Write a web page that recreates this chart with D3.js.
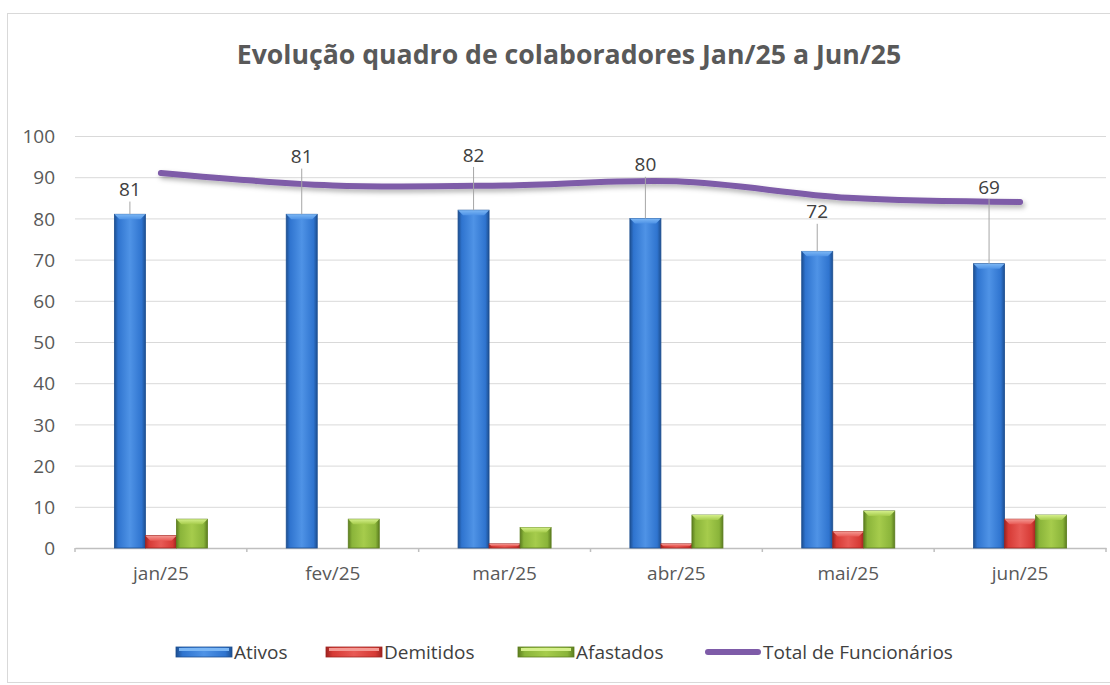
<!DOCTYPE html>
<html>
  <head>
    <meta charset="utf-8">
    <title>Evolução quadro de colaboradores</title>
    <script src="https://d3js.org/d3.v7.min.js"></script>
    <style>
      body { margin: 0; background: #fff; }
      #chart { display: block; font-family: "Open Sans", sans-serif; }
      #chart .tick text { fill: #595959; font-family: "Open Sans", sans-serif; }
    </style>
  </head>
  <body>
    <svg id="chart" width="1110" height="685"></svg>
    <script>
      // chart data
      var months = ["jan/25", "fev/25", "mar/25", "abr/25", "mai/25", "jun/25"];
      var ativos = [81, 81, 82, 80, 72, 69];
      var demitidos = [3, 0, 1, 1, 4, 7];
      var afastados = [7, 7, 5, 8, 9, 8];
      var total = [91, 88, 88, 89, 85, 84];
      var yTicks = [0, 10, 20, 30, 40, 50, 60, 70, 80, 90, 100];
      // where Excel left the Ativos labels (in axis units)
      var labelAt = [87, 95, 95.4, 93, 81.6, 87.6];

      var seriesNames = ["Ativos", "Demitidos", "Afastados"];
      var seriesValues = [ativos, demitidos, afastados];
      var palette = {
        Ativos: { dark: "#1d4f91", mid: "#2f74cf", light: "#4f93e6", top: "#7cb7f5" },
        Demitidos: { dark: "#9e2420", mid: "#d63a35", light: "#e85a55", top: "#f49a94" },
        Afastados: { dark: "#5c7d1f", mid: "#8ab43a", light: "#a6cc4c", top: "#d4ef8a" }
      };
      var lineColour = "#7e5ba8";
      var fontSize = 19;

      var margin = { top: 136, right: 4, bottom: 137, left: 75 };
      var width = 1110, height = 685;
      var chart = d3.select("#chart");

      // outer frame
      chart.append("rect")
        .attr("x", 7.5).attr("y", 13.5)
        .attr("width", 1110).attr("height", 669)
        .attr("fill", "none").attr("stroke", "#d9d9d9");

      // gradients + shadow
      var defs = chart.append("defs");
      seriesNames.forEach(function(s) {
        var c = palette[s];
        var g = defs.append("linearGradient").attr("id", "grad" + s)
          .attr("x1", 0).attr("x2", 1).attr("y1", 0).attr("y2", 0);
        g.append("stop").attr("offset", "0%").attr("stop-color", c.dark);
        g.append("stop").attr("offset", "12%").attr("stop-color", c.mid);
        g.append("stop").attr("offset", "50%").attr("stop-color", c.light);
        g.append("stop").attr("offset", "88%").attr("stop-color", c.mid);
        g.append("stop").attr("offset", "100%").attr("stop-color", c.dark);
        var t = defs.append("linearGradient").attr("id", "top" + s)
          .attr("x1", 0).attr("x2", 0).attr("y1", 0).attr("y2", 1);
        t.append("stop").attr("offset", "0%").attr("stop-color", c.top);
        t.append("stop").attr("offset", "100%").attr("stop-color", c.light);
      });
      var shadow = defs.append("filter").attr("id", "shadow")
        .attr("x", "-10%").attr("y", "-50%").attr("width", "120%").attr("height", "200%");
      shadow.append("feDropShadow").attr("dx", 2).attr("dy", 3)
        .attr("stdDeviation", 2.5).attr("flood-color", "#000").attr("flood-opacity", 0.3);

      // scales
      var x0 = d3.scaleBand()
        .domain(months)
        .range([margin.left, width - margin.right]);
      var x1 = d3.scaleBand()
        .domain(seriesNames)
        .range([0, x0.bandwidth()])
        .paddingInner(0)
        .paddingOuter(1.27);
      var y = d3.scaleLinear()
        .domain([0, 100])
        .range([height - margin.bottom, margin.top]);

      // title
      var title = chart.append("text")
        .attr("x", 569).attr("y", 64)
        .attr("text-anchor", "middle")
        .attr("font-weight", "bold")
        .attr("font-size", 24)
        .attr("fill", "#595959")
        .text("Evolução quadro de colaboradores Jan/25 a Jun/25");
      fitWidth(title, 665, 24);

      // y axis (gridlines)
      var yAxis = d3.axisLeft(y)
        .tickValues(yTicks)
        .tickSize(-(width - margin.right - margin.left))
        .tickPadding(20);
      var yAxisGroup = chart.append("g")
        .attr("transform", "translate(" + margin.left + ",0)")
        .call(yAxis)
        .attr("font-family", null)
        .attr("font-size", fontSize);
      yAxisGroup.select(".domain").remove();
      yAxisGroup.selectAll(".tick line").attr("stroke", "#d9d9d9");
      yAxisGroup.selectAll(".tick text")
        .attr("x", -20)
        .attr("dy", "0.35em");

      // x axis
      var xAxis = d3.axisBottom(x0).tickSize(0).tickPadding(18);
      var xAxisGroup = chart.append("g")
        .attr("transform", "translate(0," + y(0) + ")")
        .call(xAxis)
        .attr("font-family", null)
        .attr("font-size", fontSize);
      xAxisGroup.select(".domain").attr("stroke", "#bfbfbf").attr("stroke-width", 1.5);
      xAxisGroup.selectAll(".tick text").attr("dy", "0.75em");
      // small separators between categories
      xAxisGroup.selectAll(".sep")
        .data(months.concat(["end"]))
        .enter().append("line")
        .attr("x1", function(d, i) { return margin.left + i * x0.step(); })
        .attr("x2", function(d, i) { return margin.left + i * x0.step(); })
        .attr("y1", 0).attr("y2", 4)
        .attr("stroke", "#bfbfbf").attr("stroke-width", 1.5);

      // bars
      var bars = [];
      months.forEach(function(m, i) {
        seriesNames.forEach(function(s, k) {
          bars.push({ month: m, series: s, value: seriesValues[k][i] });
        });
      });
      var barGroup = chart.append("g");
      var bar = barGroup.selectAll(".bar")
        .data(bars.filter(function(d) { return d.value > 0; }))
        .enter().append("g")
        .attr("class", "bar")
        .attr("transform", function(d) { return "translate(" + (x0(d.month) + x1(d.series)) + ",0)"; });
      bar.append("rect")
        .attr("x", 0)
        .attr("width", x1.bandwidth())
        .attr("y", function(d) { return y(d.value); })
        .attr("height", function(d) { return y(0) - y(d.value); })
        .attr("fill", function(d) { return "url(#grad" + d.series + ")"; })
        .attr("stroke", function(d) { return palette[d.series].dark; })
        .attr("stroke-width", 0.8);
      // bevelled top
      bar.append("path")
        .attr("d", function(d) {
          var w = x1.bandwidth(), top = y(d.value);
          var b = Math.min(5, (y(0) - top) / 2);
          return "M0," + top + "L" + w + "," + top + "L" + (w - b) + "," + (top + b) +
            "L" + b + "," + (top + b) + "Z";
        })
        .attr("fill", function(d) { return "url(#top" + d.series + ")"; });

      // total line
      var line = d3.line()
        .x(function(d, i) { return x0(months[i]) + x0.bandwidth() / 2; })
        .y(function(d) { return y(d); })
        .curve(d3.curveCatmullRom);
      chart.append("path")
        .datum(total)
        .attr("d", line)
        .attr("fill", "none")
        .attr("stroke", lineColour)
        .attr("stroke-width", 6)
        .attr("stroke-linecap", "round")
        .attr("filter", "url(#shadow)");

      // Ativos labels with leader lines
      var labelGroup = chart.append("g");
      months.forEach(function(m, i) {
        var cx = x0(m) + x1("Ativos") + x1.bandwidth() / 2;
        var ly = y(labelAt[i]);
        var barTop = y(ativos[i]);
        if (barTop - ly > 22) {
          labelGroup.append("line")
            .attr("x1", cx).attr("x2", cx)
            .attr("y1", ly + 12).attr("y2", barTop)
            .attr("stroke", "#a6a6a6").attr("stroke-width", 1);
        }
        labelGroup.append("text")
          .attr("x", cx).attr("y", ly)
          .attr("dy", "0.35em")
          .attr("text-anchor", "middle")
          .attr("font-size", fontSize)
          .attr("fill", "#404040")
          .text(ativos[i]);
      });

      // legend
      var legendItems = [
        { name: "Ativos", x: 176, kind: "bar" },
        { name: "Demitidos", x: 326, kind: "bar" },
        { name: "Afastados", x: 518, kind: "bar" },
        { name: "Total de Funcionários", x: 705, kind: "line" }
      ];
      var legend = chart.append("g").attr("transform", "translate(0,652)");
      legendItems.forEach(function(d) {
        var g = legend.append("g").attr("transform", "translate(" + d.x + ",0)");
        if (d.kind == "bar") {
          g.append("rect")
            .attr("x", 0).attr("y", -5).attr("width", 56).attr("height", 10)
            .attr("fill", "url(#grad" + d.name + ")")
            .attr("stroke", palette[d.name].dark).attr("stroke-width", 0.8);
          g.append("rect")
            .attr("x", 3).attr("y", -4).attr("width", 50).attr("height", 3)
            .attr("fill", palette[d.name].top);
        } else {
          g.append("line")
            .attr("x1", 3).attr("x2", 53).attr("y1", 0).attr("y2", 0)
            .attr("stroke", lineColour).attr("stroke-width", 6)
            .attr("stroke-linecap", "round");
        }
        g.append("text")
          .attr("x", 58).attr("y", 0).attr("dy", "0.35em")
          .attr("font-size", fontSize).attr("fill", "#404040")
          .text(d.name);
      });

      // scale a label so it spans the measured width
      function fitWidth(sel, target, size) {
        var w = sel.node().getComputedTextLength();
        sel.attr("font-size", size * target / w);
      }
    </script>
  </body>
</html>
